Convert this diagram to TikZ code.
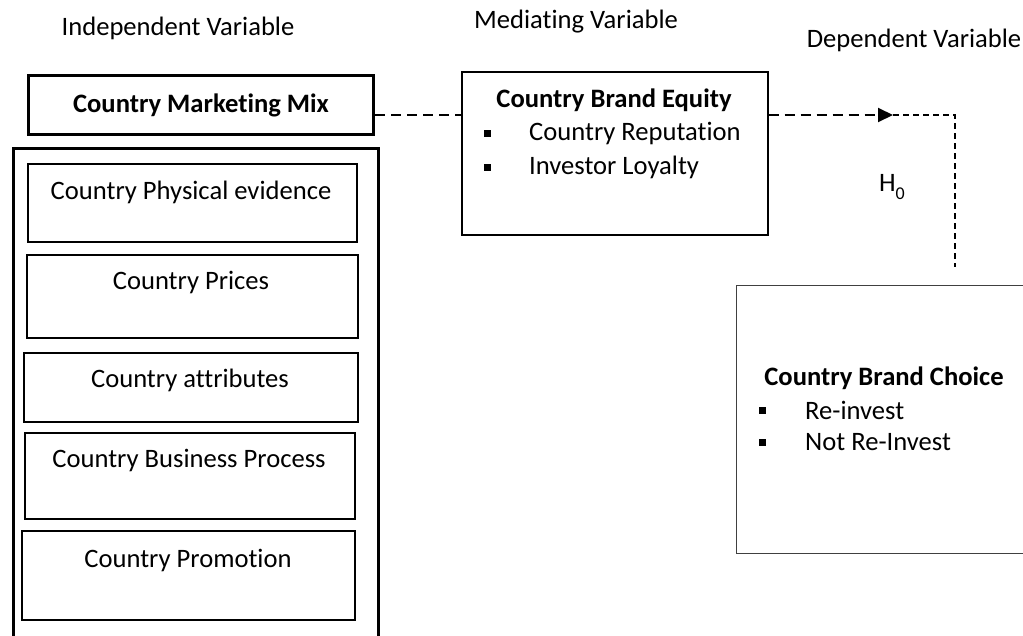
\documentclass[tikz,border=0pt]{standalone}
\usepackage{fontspec}
\setmainfont[RawFeature={-liga;-clig;-calt}]{Carlito}
\usetikzlibrary{arrows.meta}
\tikzset{
  box/.style={draw=black, line width=1.7pt, minimum width=#1, inner sep=0pt, anchor=north west},
  thickbox/.style={draw=black, line width=3pt, inner sep=0pt, anchor=north west},
  txt/.style={inner sep=0pt, font=\fontsize{26.6}{32}\selectfont},
  btxt/.style={inner sep=0pt, font=\fontsize{26.6}{32}\selectfont\bfseries},
  ltxt/.style={inner sep=0pt, anchor=west, font=\fontsize{26.6}{32}\selectfont},
  bullet/.style={fill=black, inner sep=0pt, minimum size=7pt},
  conn/.style={line width=2pt, dash pattern=on 10pt off 6pt},
  connthin/.style={line width=1.3pt, dash pattern=on 6pt off 4pt},
}
\begin{document}
\begin{tikzpicture}[x=1pt,y=-1pt]
\useasboundingbox (0,0) rectangle (1023,635);
% headers
\node[txt] (hind) at (178,28) {Independent Variable};
\node[txt] (hmed) at (576,22) {Mediating Variable};
\node[txt] (hdep) at (914,40) {Dependent Variable};
% left column
\node[thickbox, minimum width=345pt, minimum height=59pt] (mm) at (27,74) {};
\node[btxt] (mmt) at (mm.center) {Country Marketing Mix};
\node[thickbox, minimum width=365pt, minimum height=510pt] (outer) at (12,147) {};
\node[box=329pt, minimum height=78pt] (pe) at (27,163) {};
\node[txt] (pet) at (191,192) {Country Physical evidence};
\node[box=331pt, minimum height=83pt] (pr) at (26,254) {};
\node[txt] (prt) at (191,282) {Country Prices};
\node[box=334pt, minimum height=69pt] (at) at (23,352) {};
\node[txt] (att) at (190,380) {Country attributes};
\node[box=330pt, minimum height=86pt] (bp) at (24,432) {};
\node[txt] (bpt) at (189,460) {Country Business Process};
\node[box=333pt, minimum height=89pt] (pm) at (21,530) {};
\node[txt] (pmt) at (188,560) {Country Promotion};
% mediating
\node[draw=black, line width=1.5pt, inner sep=0pt, anchor=north west, minimum width=306pt, minimum height=163pt] (eq) at (461,71) {};
\node[btxt] (eqt) at (614,100) {Country Brand Equity};
\node[bullet] (eqb1) at (487,133) {};
\node[ltxt] (eqr) at (529,133) {Country Reputation};
\node[bullet] (eqb2) at (487,167) {};
\node[ltxt] (eql) at (529,167) {Investor Loyalty};
% dependent
\node[draw=black!75, line width=1.3pt, inner sep=0pt, anchor=north west, minimum width=300pt, minimum height=268pt] (ch) at (736,285) {};
\node[btxt] (cht) at (884,378) {Country Brand Choice};
\node[bullet] (chb1) at (762,410) {};
\node[ltxt] (chr) at (805,410) {Re-invest};
\node[bullet] (chb2) at (762,442) {};
\node[ltxt] (chn) at (805,442) {Not Re-Invest};
% H0
\node[txt] (h0) at (892,187) {H\raisebox{-0.3em}{\fontsize{18}{18}\selectfont 0}};
% connectors
\coordinate (y115) at (0,115);
\coordinate (tip) at (893,115);
\coordinate (corner) at (955,115);
\coordinate (endv) at (955,267);
\draw[conn] (mm.east |- y115) -- (eq.west |- y115);
\draw[conn, -{Triangle[length=15pt,width=14pt]}] (eq.east |- y115) -- (tip);
\draw[connthin] (tip) -- (corner) -- (endv);
\end{tikzpicture}
\end{document}
